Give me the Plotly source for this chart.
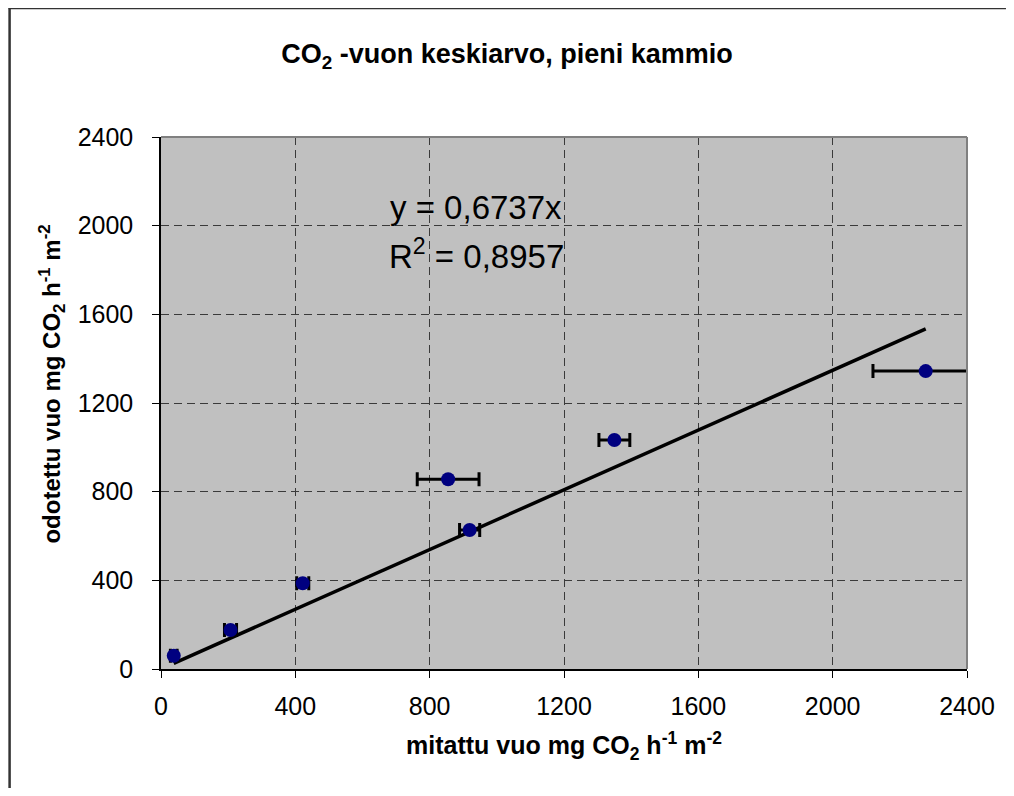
import plotly.graph_objects as go

# ---- data ----
measured = [38, 207, 422, 855, 919, 1350, 2277]        # mitattu vuo (x)
expected = [60, 176, 387, 856, 627, 1033, 1344]        # odotettu vuo (y)
measured_err = [10, 18, 18, 92, 30, 46, 157]           # x error (+/-)
slope = 0.6737
r2 = 0.8957
tick_vals = [0, 400, 800, 1200, 1600, 2000, 2400]

# page has an 8px body margin: figure sized to fit the window without scrollbars
W, H = 998, 780
ML, MR, MT, MB = 152.5, 39, 129, 119
pw, ph = W - ML - MR, H - MT - MB

def px2paper_x(p):
    return (p - ML) / pw

def px2paper_y(p):
    return (H - MB - p) / ph

fig = go.Figure()

# trend line through origin, spanning the data range
xmin, xmax = min(measured), max(measured)
fig.add_trace(go.Scatter(
    x=[xmin, xmax], y=[slope * xmin, slope * xmax],
    mode="lines", line=dict(color="black", width=3.5),
    hoverinfo="skip", showlegend=False,
))

fig.add_trace(go.Scatter(
    x=measured, y=expected, mode="markers",
    marker=dict(color="#000080", size=14),
    error_x=dict(type="data", array=measured_err, visible=True,
                 color="black", thickness=3, width=7),
    cliponaxis=False, showlegend=False,
))

font_main = "Arial, Liberation Sans, sans-serif"

axis_common = dict(
    range=[0, 2400], tickvals=tick_vals, ticktext=[str(v) for v in tick_vals],
    showgrid=True, gridcolor="#3a3a3a", gridwidth=1, griddash="8px,5px",
    zeroline=False, showline=True, linecolor="black", linewidth=1.5,
    ticks="outside", ticklen=7, tickcolor="black", tickwidth=1,
    tickfont=dict(family=font_main, size=25, color="black"),
    fixedrange=True,
)

fig.update_xaxes(**axis_common,
                 title=dict(text="<b>mitattu vuo mg CO<sub>2</sub> h<sup>-1</sup> m<sup>-2</sup></b>",
                            font=dict(family=font_main, size=25, color="black"),
                            standoff=18),
                 ticklabelstandoff=7)
fig.update_yaxes(**axis_common, ticklabelstandoff=14)

shapes = [
    # gray top / right border of plot area
    dict(type="line", xref="paper", yref="paper", x0=0, x1=1, y0=1, y1=1,
         line=dict(color="#808080", width=2)),
    dict(type="line", xref="paper", yref="paper", x0=1, x1=1, y0=0, y1=1,
         line=dict(color="#808080", width=2)),
    # outer chart frame: only left and top edges fall inside the page
    dict(type="line", xref="paper", yref="paper",
         x0=px2paper_x(1), x1=px2paper_x(1), y0=px2paper_y(0), y1=px2paper_y(H),
         line=dict(color="#333333", width=2.5)),
    dict(type="line", xref="paper", yref="paper",
         x0=px2paper_x(0), x1=px2paper_x(W), y0=px2paper_y(0), y1=px2paper_y(0),
         line=dict(color="#333333", width=2.5)),
]

annotations = [
    dict(text=f"y = {str(slope).replace('.', ',')}x", x=939, y=2080, xref="x", yref="y",
         showarrow=False, font=dict(family=font_main, size=33, color="black")),
    dict(text=f"R<sup>2</sup> = {str(r2).replace('.', ',')}", x=939, y=1872, xref="x", yref="y",
         showarrow=False, font=dict(family=font_main, size=33, color="black")),
    # y-axis title
    dict(text="<b>odotettu vuo mg CO<sub>2</sub> h<sup>-1</sup> m<sup>-2</sup></b>",
         textangle=-90, xref="paper", yref="paper",
         x=px2paper_x(43), y=px2paper_y(376), xanchor="center", yanchor="middle",
         showarrow=False, font=dict(family=font_main, size=24, color="black")),
]

fig.update_layout(
    width=W, height=H,
    margin=dict(l=ML, r=MR, t=MT, b=MB),
    paper_bgcolor="white", plot_bgcolor="#C0C0C0",
    title=dict(text="<b>CO<sub>2</sub> -vuon keskiarvo, pieni kammio</b>",
               x=0.5, xanchor="center", xref="container", y=1 - 46 / H, yanchor="middle",
               font=dict(family=font_main, size=27, color="black")),
    shapes=shapes, annotations=annotations,
    showlegend=False,
)

fig.write_html("out.html")
